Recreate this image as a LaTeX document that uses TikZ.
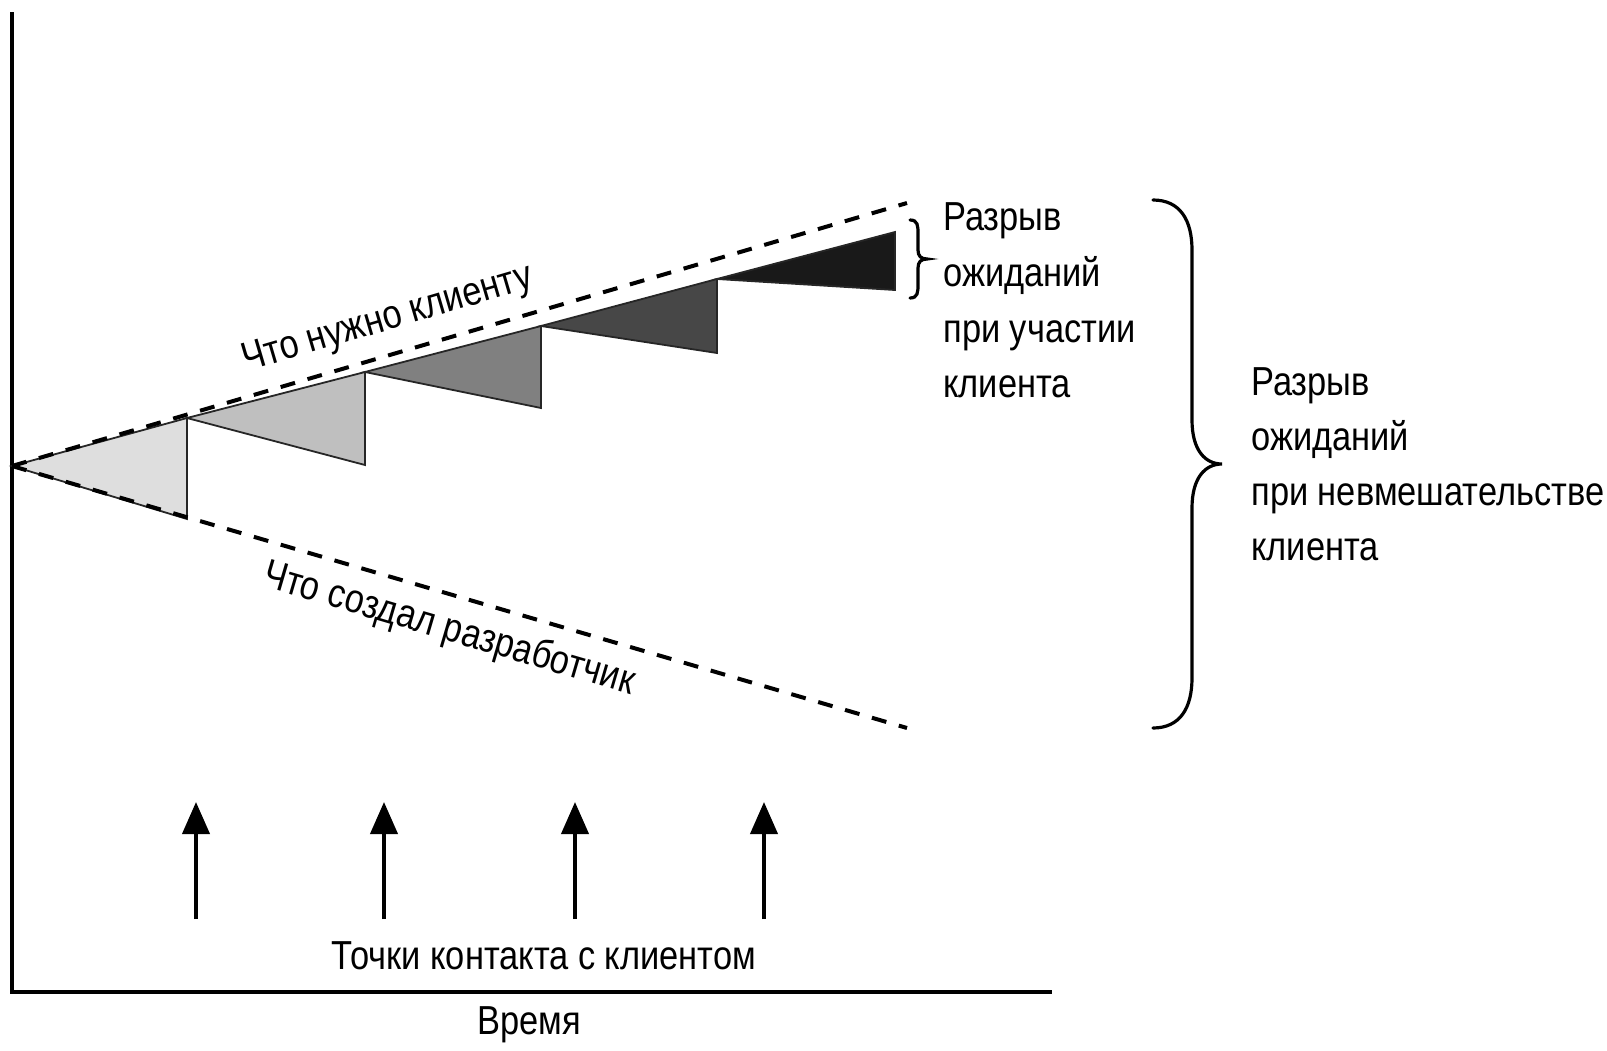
\documentclass[tikz,border=0pt]{standalone}
\usepackage{fontspec}
\setmainfont{Liberation Sans}[FakeStretch=0.85]
\usetikzlibrary{arrows.meta}
\tikzset{
  axisline/.style={line width=2pt, black},
  dashline/.style={line width=2pt, black, dash pattern=on 7.5pt off 6.5pt},
  gaptri/.style={draw=black!85, line width=0.9pt, line join=miter},
  contact/.style={line width=2pt, -{Triangle[width=13.5pt,length=16pt]}},
  bracestyle/.style={line width=1.6pt, line cap=round},
  lbl/.style={inner sep=0pt, font=\fontsize{20.25}{28}\selectfont},
}
\begin{document}
\begin{tikzpicture}[x=0.5pt,y=-0.5pt]
\useasboundingbox (0,0) rectangle (1607,1050);
% key points
\coordinate (O) at (12,466);
\coordinate (T1) at (187,418);
\coordinate (T2) at (365,372);
\coordinate (T3) at (541,326);
\coordinate (T4) at (717,279);
\coordinate (T5) at (895,232);
\coordinate (B1) at (187,519);
\coordinate (B2) at (365,465);
\coordinate (B3) at (541,408);
\coordinate (B4) at (717,353);
\coordinate (B5) at (895,290);
\coordinate (UpEnd) at (907,203);
\coordinate (LoEnd) at (907,728);
% axes
\coordinate (Ytop) at (12,12);
\coordinate (Xo) at (10,992);
\coordinate (Xend) at (1052,992);
\draw[axisline] (Ytop) -- (12,992);
\draw[axisline] (Xo) -- (Xend);
% gap triangles
\filldraw[gaptri, fill=black!13] (O) -- (T1) -- (B1) -- cycle;
\filldraw[gaptri, fill=black!25] (T1) -- (T2) -- (B2) -- cycle;
\filldraw[gaptri, fill=black!50] (T2) -- (T3) -- (B3) -- cycle;
\filldraw[gaptri, fill=black!72] (T3) -- (T4) -- (B4) -- cycle;
\filldraw[gaptri, fill=black!90] (T4) -- (T5) -- (B5) -- cycle;
% dashed lines
\draw[dashline] (O) -- (UpEnd);
\draw[dashline] (O) -- (LoEnd);
% rotated labels
\node[lbl, rotate=16.4] (need) at (388,320) {Что нужно клиенту};
\node[lbl, rotate=-16.4] (made) at (449,630) {Что создал разработчик};
% small brace
\draw[bracestyle] (910,220) .. controls (918,220) and (918,226) .. (918,234)
  -- (918,250) .. controls (918,256) and (921,259) .. (927,259)
  .. controls (921,259) and (918,262) .. (918,268)
  -- (918,284) .. controls (918,292) and (918,298) .. (910,298);
% big brace
\draw[bracestyle] (1153,200) .. controls (1180,200) and (1192,220) .. (1192,250)
  -- (1192,420) .. controls (1192,450) and (1205,464) .. (1222,464)
  .. controls (1205,464) and (1192,478) .. (1192,508)
  -- (1192,678) .. controls (1192,708) and (1180,728) .. (1153,728);
% label block 1
\node[lbl, anchor=base west] (a1) at (943,230) {Разрыв};
\node[lbl, anchor=base west] (a2) at (943,286) {ожиданий};
\node[lbl, anchor=base west] (a3) at (943,342) {при участии};
\node[lbl, anchor=base west] (a4) at (943,397) {клиента};
% label block 2
\node[lbl, anchor=base west] (b1) at (1251,395) {Разрыв};
\node[lbl, anchor=base west] (b2) at (1251,450) {ожиданий};
\node[lbl, anchor=base west] (b3) at (1251,505) {при невмешательстве};
\node[lbl, anchor=base west] (b4) at (1251,560) {клиента};
% contact arrows
\foreach \i/\x in {1/196,2/384,3/575,4/764}{
  \coordinate (c\i b) at (\x,919);
  \coordinate (c\i t) at (\x,802);
  \draw[contact] (c\i b) -- (c\i t);
}
\node[lbl] (contacts) at (544,956) {Точки контакта с клиентом};
\node[lbl] (time) at (529,1025) {Время};
\end{tikzpicture}
\end{document}
